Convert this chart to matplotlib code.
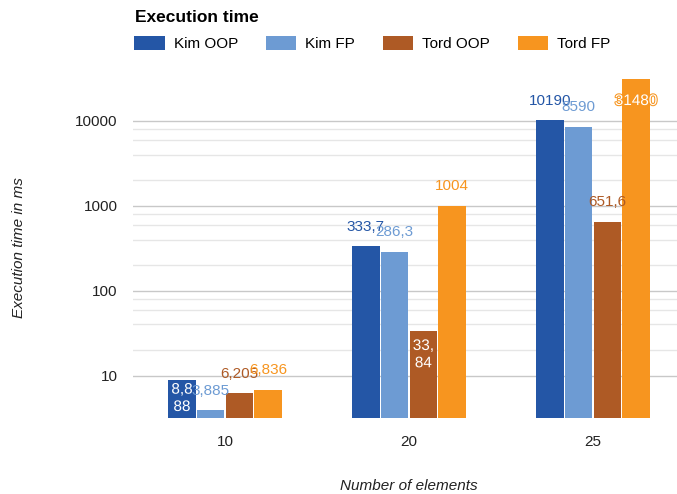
import numpy as np
import matplotlib.pyplot as plt
import matplotlib.patheffects as pe
from matplotlib.ticker import FixedLocator, NullFormatter

plt.rcParams['font.family'] = ['Liberation Sans', 'DejaVu Sans']

categories = ["10", "20", "25"]
series = ["Kim OOP", "Kim FP", "Tord OOP", "Tord FP"]
kim_oop = [8.888, 333.7, 10190]
kim_fp = [3.885, 286.3, 8590]
tord_oop = [6.205, 33.84, 651.6]
tord_fp = [6.836, 1004, 31480]
# text as Google Charts printed it (decimal comma, some wrapped inside the bar)
labels = [
    ["8,8\n88", "333,7", "10190"],
    ["3,885", "286,3", "8590"],
    ["6,205", "33,\n84", "651,6"],
    ["6,836", "1004", "31480"],
]
# labels drawn inside the bar (pt below the bar top), None = above the bar
inside = [
    [-2, None, None],
    [None, None, None],
    [None, -6, None],
    [None, None, -11],
]
colors = ["#2456a6", "#6d9bd3", "#ae5a25", "#f7951f"]

values = [kim_oop, kim_fp, tord_oop, tord_fp]

fig = plt.figure(figsize=(6.77, 4.94), dpi=100)
ax = fig.add_axes([133/677, 1 - 418/494, 552/677, (418 - 77)/494])

x = np.arange(len(categories))
w = 0.156
for i, (name, vals) in enumerate(zip(series, values)):
    pos = x + (i - 1.5) * w
    bars = ax.bar(pos, vals, width=w - 0.006, color=colors[i], label=name, zorder=3)
    for j, b in enumerate(bars):
        xy = (b.get_x() + b.get_width() / 2, b.get_height())
        if inside[i][j] is not None:
            t = ax.annotate(labels[i][j], xy, xytext=(0, inside[i][j]), textcoords="offset points",
                            ha="center", va="top", color="white", fontsize=11, zorder=4,
                            linespacing=1.3)
            t.set_path_effects([pe.withStroke(linewidth=1.5, foreground=colors[i])])
        else:
            ax.annotate(labels[i][j], xy, xytext=(0, 9), textcoords="offset points",
                        ha="center", va="bottom", color=colors[i], fontsize=11, zorder=4)

ax.set_yscale("log")
ax.set_ylim(3.16, 33000)
ax.set_xlim(-0.5, 2.5)
ax.yaxis.set_major_locator(FixedLocator([10, 100, 1000, 10000]))
ax.yaxis.set_major_formatter(plt.FuncFormatter(lambda v, p: f"{int(v)}"))
ax.yaxis.set_minor_locator(FixedLocator([m * 10**e for e in range(1, 4) for m in (2, 4, 6, 8)]))
ax.yaxis.set_minor_formatter(NullFormatter())
ax.grid(True, which="major", axis="y", color="#c8c8c8", lw=1, zorder=0)
ax.grid(True, which="minor", axis="y", color="#e6e6e6", lw=1, zorder=0)

ax.set_xticks(x)
ax.set_xticklabels(categories)
ax.tick_params(axis="both", which="both", length=0, labelsize=11, colors="#222222")
ax.tick_params(axis="x", pad=12)
ax.tick_params(axis="y", pad=11)
for s in ax.spines.values():
    s.set_visible(False)

ax.set_xlabel("Number of elements", style="italic", fontsize=11, color="#222222", labelpad=22)
ax.set_ylabel("Execution time in ms", style="italic", fontsize=11, color="#222222")
ax.yaxis.set_label_coords(-107/552, 0.5)

fig.text(135/677, 1 - 17/494, "Execution time", fontsize=12.5, fontweight="bold", va="center", ha="left")
fig.legend(loc="upper left", bbox_to_anchor=(128/677, 1 - 30/494), ncol=4, frameon=False,
           handlelength=2.0, handleheight=1.0, handletextpad=0.6, columnspacing=1.8,
           fontsize=11, borderaxespad=0)

fig.savefig("out.png", dpi=100)
